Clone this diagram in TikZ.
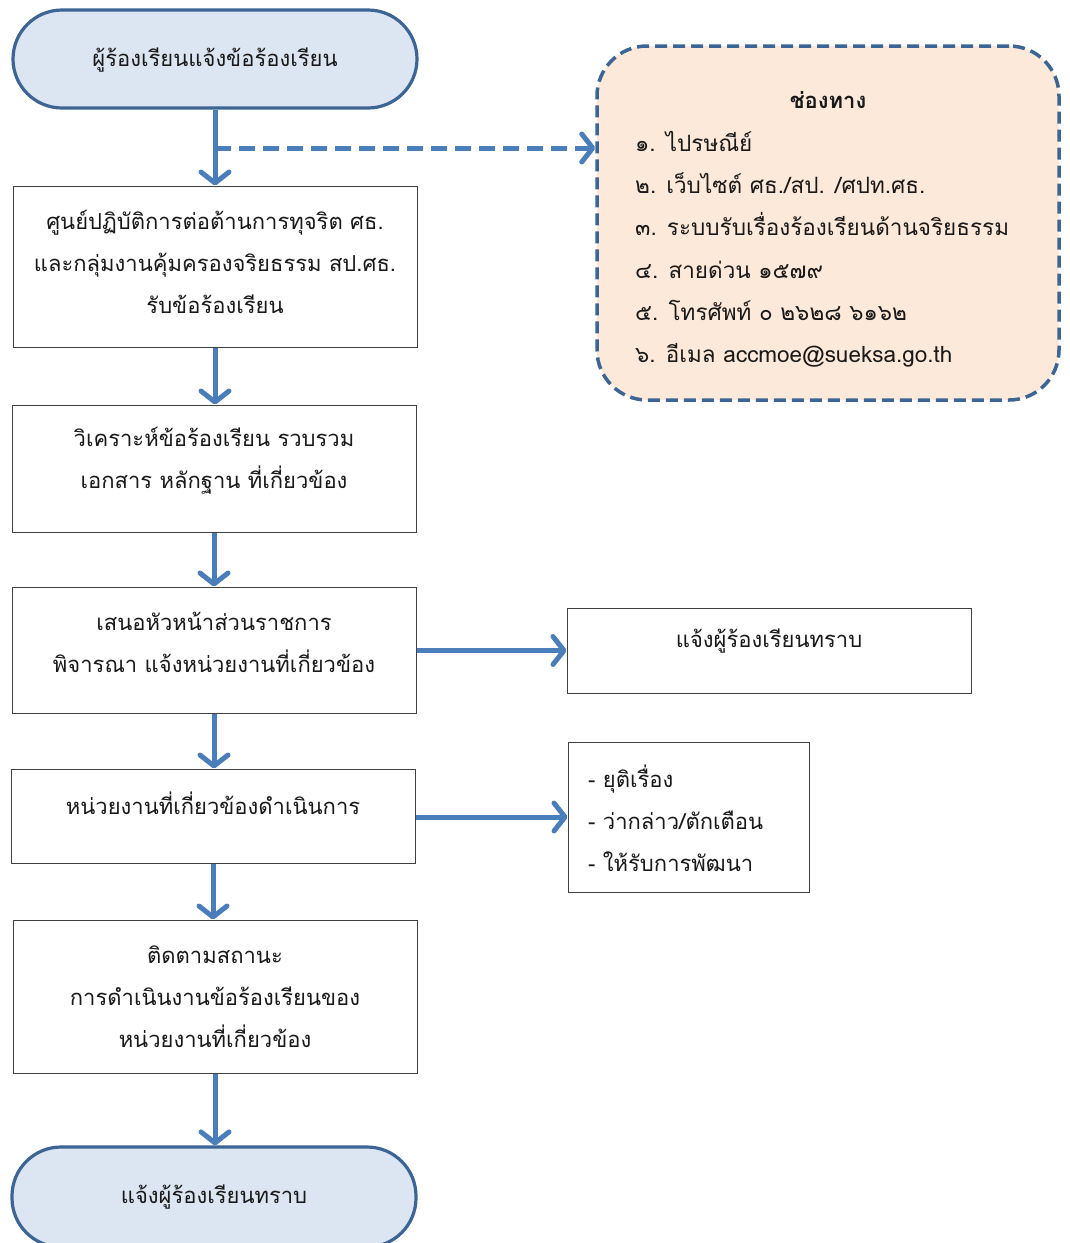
\documentclass[tikz,border=0pt]{standalone}
\usepackage{fontspec}
\setmainfont[Script=Thai]{Loma}
\usetikzlibrary{arrows.meta}
\definecolor{arrowblue}{HTML}{4A7EBB}
\definecolor{edgeblue}{HTML}{3C6494}
\definecolor{termfill}{HTML}{DCE6F2}
\definecolor{chanfill}{HTML}{FDE9D9}
\definecolor{boxedge}{HTML}{404040}
\tikzset{
  x=1pt, y=-1pt,
  txt/.style={font=\fontsize{22}{42}\selectfont, text=black!90, align=center, inner sep=0pt},
  procbox/.style={draw=boxedge, line width=1pt, fill=white, inner sep=0pt},
  termbox/.style={draw=edgeblue, line width=3.2pt, fill=termfill, rounded corners=49pt, inner sep=0pt},
  flow/.style={draw=arrowblue, line width=5pt, -{Straight Barb[length=11pt,width=28pt,line cap=round,line join=round]}},
  dflow/.style={flow, dash pattern=on 16pt off 8pt},
}
\begin{document}
\begin{tikzpicture}
\useasboundingbox[fill=white] (0,0) rectangle (1069,1243);
% terminal top
\node[termbox, minimum width=404pt, minimum height=98pt] (t1) at (215,59) {};
\node[txt] (t1t) at (215,60) {ผู้ร้องเรียนแจ้งข้อร้องเรียน};
% channels box
\node[draw=edgeblue, line width=3.5pt, dash pattern=on 12pt off 6pt, fill=chanfill, rounded corners=50pt, minimum width=462pt, minimum height=354pt, inner sep=0pt] (ch) at (828,223) {};
\node[txt, font=\fontsize{22}{42}\selectfont\bfseries] (cht) at (828,100) {ช่องทาง};
\node[txt, font=\fontsize{22.5}{42.2}\selectfont, align=left, anchor=north west] (chl) at (635,131) {๑. ไปรษณีย์\\๒. เว็บไซต์ ศธ./สป. /ศปท.ศธ.\\๓. ระบบรับเรื่องร้องเรียนด้านจริยธรรม\\๔. สายด่วน ๑๕๗๙\\๕. โทรศัพท์ ๐ ๒๖๒๘ ๖๑๖๒\\๖. อีเมล accmoe@sueksa.go.th};
% process boxes
\node[procbox, minimum width=404pt, minimum height=161pt] (b1) at (215,266.5) {};
\node[txt] (b1t) at (215,262) {ศูนย์ปฏิบัติการต่อต้านการทุจริต ศธ.\\และกลุ่มงานคุ้มครองจริยธรรม สป.ศธ.\\รับข้อร้องเรียน};
\node[procbox, minimum width=404pt, minimum height=127pt] (b2) at (214,468.5) {};
\node[txt] (b2t) at (214,461) {วิเคราะห์ข้อร้องเรียน รวบรวม\\เอกสาร หลักฐาน ที่เกี่ยวข้อง};
\node[procbox, minimum width=404pt, minimum height=126pt] (b3) at (214,650) {};
\node[txt] (b3t) at (214,642) {เสนอหัวหน้าส่วนราชการ\\พิจารณา แจ้งหน่วยงานที่เกี่ยวข้อง};
\node[procbox, minimum width=404pt, minimum height=94pt] (b4) at (213,816) {};
\node[txt] (b4t) at (213,803) {หน่วยงานที่เกี่ยวข้องดำเนินการ};
\node[procbox, minimum width=404pt, minimum height=153pt] (b5) at (215,996.5) {};
\node[txt] (b5t) at (215,997) {ติดตามสถานะ\\การดำเนินงานข้อร้องเรียนของ\\หน่วยงานที่เกี่ยวข้อง};
% terminal bottom
\node[termbox, minimum width=404pt, minimum height=100pt] (t2) at (214,1197) {};
\node[txt] (t2t) at (214,1197) {แจ้งผู้ร้องเรียนทราบ};
% right boxes
\node[procbox, minimum width=404pt, minimum height=85pt] (ra) at (769,650.5) {};
\node[txt] (rat) at (769,641) {แจ้งผู้ร้องเรียนทราบ};
\node[procbox, minimum width=241pt, minimum height=150pt] (rb) at (688.5,817) {};
\node[txt, align=left, anchor=west] (rbt) at (588,818) {- ยุติเรื่อง\\- ว่ากล่าว/ตักเตือน\\- ให้รับการพัฒนา};
% connectors
\coordinate (split) at (215,148);
\draw[flow] (t1.south -| split) -- (b1.north -| split);
\draw[dflow] (split) -- (split -| ch.west);
\draw[flow] (b1.south -| split) -- (b2.north -| split);
\draw[flow] (b2.south) -- (b3.north);
\draw[flow] (b3.south) -- (b3.south |- b4.north);
\draw[flow] (b4.south) -- (b4.south |- b5.north);
\draw[flow] (b5.south -| split) -- (t2.north -| split);
\draw[flow] (b3.east |- ra.center) -- (ra.west);
\draw[flow] (b4.east |- rb.center) -- (rb.west);
\end{tikzpicture}
\end{document}
